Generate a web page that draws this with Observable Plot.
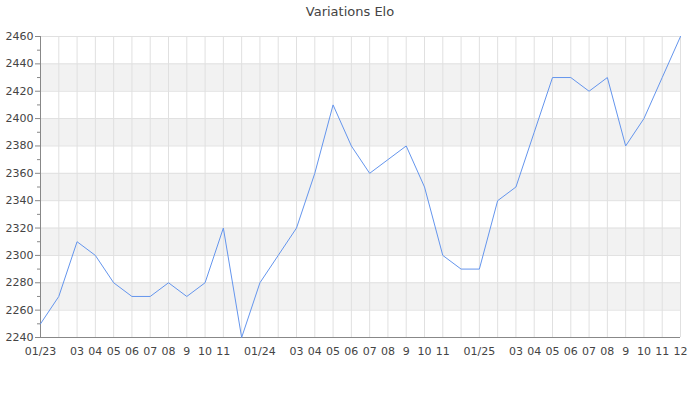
<!DOCTYPE html>
<html>
<head>
<meta charset="utf-8">
<script src="https://cdn.jsdelivr.net/npm/d3@7"></script>
<script src="https://cdn.jsdelivr.net/npm/@observablehq/plot@0.6"></script>
<style>
  body { margin: 0; background: #fff; font-family: "DejaVu Sans", sans-serif; }
  #title { height: 24px; line-height: 24px; text-align: center; font-size: 13px; color: #444; }
  #chart svg { display: block; }
</style>
</head>
<body>
<div id="title">Variations Elo</div>
<div id="chart"></div>
<script>
const monthLabels = ["01/23","","03","04","05","06","07","08","9","10","11","",
                     "01/24","","03","04","05","06","07","08","9","10","11","",
                     "01/25","","03","04","05","06","07","08","9","10","11","12"];
const elo = [2250,2270,2310,2300,2280,2270,2270,2280,2270,2280,2320,2240,
             2280,2300,2320,2360,2410,2380,2360,2370,2380,2350,2300,2290,
             2290,2340,2350,2390,2430,2430,2420,2430,2380,2400,2430,2460];
const yTicks = [2240,2260,2280,2300,2320,2340,2360,2380,2400,2420,2440,2460];
const yMinorTicks = [2250,2270,2290,2310,2330,2350,2370,2390,2410,2430,2450];
const bandsLow = [2260,2300,2340,2380,2420];

const data = elo.map((v, i) => ({i, v}));
const idx = monthLabels.map((_, i) => i);
const bands = bandsLow.map(b => ({y1: b, y2: b + 20}));

const chart = Plot.plot({
  width: 700,
  height: 376,
  marginTop: 12,
  marginBottom: 63,
  marginLeft: 40,
  marginRight: 20,
  style: {fontFamily: "DejaVu Sans, sans-serif", fontSize: "11px", color: "#444"},
  x: {type: "linear", domain: [0, idx.length - 1], axis: null, label: null},
  y: {domain: [2240, 2460], axis: null, label: null},
  marks: [
    Plot.rect(bands, {x1: 0, x2: idx.length - 1, y1: "y1", y2: "y2", fill: "#f2f2f2"}),
    Plot.gridX(idx, {stroke: "#e0e0e0", strokeOpacity: 1}),
    Plot.gridY(yTicks, {stroke: "#e0e0e0", strokeOpacity: 1}),
    Plot.axisX(idx, {tickSize: 0, tickPadding: 10, tickFormat: i => monthLabels[i], fill: "#444", fontSize: 11, label: null}),
    Plot.axisY(yTicks, {tickSize: 5, tickPadding: 2, tickFormat: d3.format("d"), stroke: "#888", fill: "#444", fontSize: 11, label: null}),
    Plot.axisY(yMinorTicks, {tickSize: 3, tickFormat: () => "", stroke: "#888", label: null}),
    Plot.ruleY([2240], {stroke: "#888"}),
    Plot.ruleX([0], {stroke: "#888"}),
    Plot.line(data, {x: "i", y: "v", stroke: "#6495ed", strokeWidth: 1})
  ]
});
document.getElementById("chart").appendChild(chart);
</script>
</body>
</html>
